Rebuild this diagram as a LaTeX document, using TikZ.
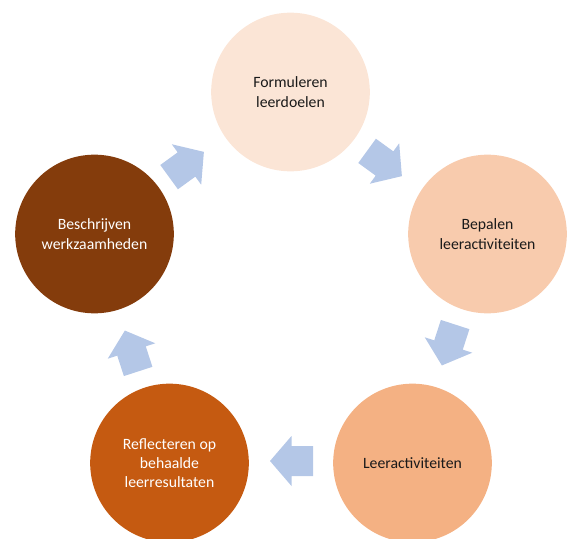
\documentclass[tikz,border=0pt]{standalone}
\usepackage{fontspec}
\setmainfont{Carlito}
\usetikzlibrary{calc}
\definecolor{c1}{HTML}{FBE5D6}
\definecolor{c2}{HTML}{F8CBAD}
\definecolor{c3}{HTML}{F4B183}
\definecolor{c4}{HTML}{C55A11}
\definecolor{c5}{HTML}{843C0C}
\definecolor{arrowblue}{HTML}{B4C7E7}
\definecolor{darktext}{HTML}{1A1A1A}
\tikzset{
  stepcircle/.style={circle, minimum size=119pt, inner sep=0pt, align=center,
    font=\fontsize{11.8}{14.5}\selectfont},
  darkcircle/.style={stepcircle, text=darktext},
  lightcircle/.style={stepcircle, text=white},
  cyclearrow/.style={fill=arrowblue, draw=none}
}
\newcommand\blockarrow[2]{%
  \fill[cyclearrow, shift={#1}, rotate=#2]
    (-21.5,-15) -- (0,-15) -- (0,-25) -- (21.5,0) -- (0,25) -- (0,15) -- (-21.5,15) -- cycle;}
\begin{document}
\begin{tikzpicture}[x=0.75pt,y=-0.75pt]
\useasboundingbox (0,0) rectangle (569,539);
\node[darkcircle, fill=c1] (n1) at (290.5,92) {Formuleren\\leerdoelen};
\node[darkcircle, fill=c2] (n2) at (487.5,234) {Bepalen\\leeractiviteiten};
\node[darkcircle, fill=c3] (n3) at (412.5,463) {Leeractiviteiten};
\node[lightcircle, fill=c4] (n4) at (169.5,463) {Reflecteren op\\behaalde\\leerresultaten};
\node[lightcircle, fill=c5] (n5) at (94.5,234) {Beschrijven\\werkzaamheden};
\blockarrow{(384.5,163.5)}{-36}
\blockarrow{(448.5,345)}{-108}
\blockarrow{(291.5,461)}{180}
\blockarrow{(131.5,351)}{108}
\blockarrow{(186.5,164.5)}{36}
\end{tikzpicture}
\end{document}
